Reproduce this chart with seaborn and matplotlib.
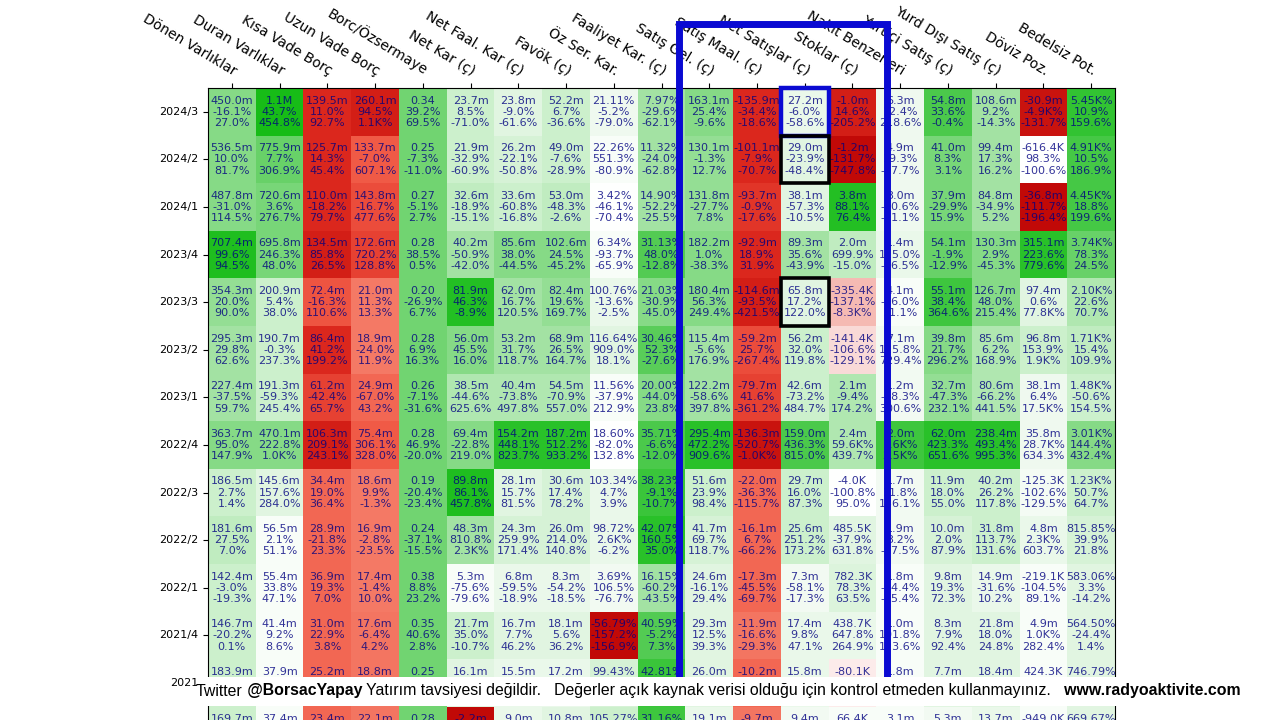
import numpy as np
import pandas as pd
import seaborn as sns
import matplotlib.pyplot as plt
from matplotlib.colors import LinearSegmentedColormap
from matplotlib.patches import Rectangle

# satirlar (donemler) ve sutunlar (kalemler)
donemler = ['2024/3', '2024/2', '2024/1', '2023/4', '2023/3', '2023/2', '2023/1',
            '2022/4', '2022/3', '2022/2', '2022/1', '2021/4', '2021', '2020/4']
kalemler = ['Dönen Varlıklar', 'Duran Varlıklar', 'Kısa Vade Borç', 'Uzun Vade Borç',
            'Borc/Özsermaye', 'Net Kar (ç)', 'Net Faal. Kar (ç)', 'Favök (ç)', 'Öz Ser. Kar.',
            'Faaliyet Kar. (ç)', 'Satış Gel. (ç)', 'Satış Maal. (ç)', 'Net Satışlar (ç)',
            'Stoklar (ç)', 'Nakit Benzerleri', 'Yurtiçi Satış (ç)', 'Yurd Dışı Satış (ç)',
            'Döviz Poz.', 'Bedelsiz Pot.']

# hucre degerleri (1. satir)
degerler = [
    ['450.0m', '1.1M', '139.5m', '260.1m', '0.34', '23.7m', '23.8m', '52.2m', '21.11%', '7.97%', '163.1m', '-135.9m', '27.2m', '-1.0m', '6.3m', '54.8m', '108.6m', '-30.9m', '5.45K%'],
    ['536.5m', '775.9m', '125.7m', '133.7m', '0.25', '21.9m', '26.2m', '49.0m', '22.26%', '11.32%', '130.1m', '-101.1m', '29.0m', '-1.2m', '4.9m', '41.0m', '99.4m', '-616.4K', '4.91K%'],
    ['487.8m', '720.6m', '110.0m', '143.8m', '0.27', '32.6m', '33.6m', '53.0m', '3.42%', '14.90%', '131.8m', '-93.7m', '38.1m', '3.8m', '3.0m', '37.9m', '84.8m', '-36.8m', '4.45K%'],
    ['707.4m', '695.8m', '134.5m', '172.6m', '0.28', '40.2m', '85.6m', '102.6m', '6.34%', '31.13%', '182.2m', '-92.9m', '89.3m', '2.0m', '1.4m', '54.1m', '130.3m', '315.1m', '3.74K%'],
    ['354.3m', '200.9m', '72.4m', '21.0m', '0.20', '81.9m', '62.0m', '82.4m', '100.76%', '21.03%', '180.4m', '-114.6m', '65.8m', '-335.4K', '4.1m', '55.1m', '126.7m', '97.4m', '2.10K%'],
    ['295.3m', '190.7m', '86.4m', '18.9m', '0.28', '56.0m', '53.2m', '68.9m', '116.64%', '30.46%', '115.4m', '-59.2m', '56.2m', '-141.4K', '7.1m', '39.8m', '85.6m', '96.8m', '1.71K%'],
    ['227.4m', '191.3m', '61.2m', '24.9m', '0.26', '38.5m', '40.4m', '54.5m', '11.56%', '20.00%', '122.2m', '-79.7m', '42.6m', '2.1m', '1.2m', '32.7m', '80.6m', '38.1m', '1.48K%'],
    ['363.7m', '470.1m', '106.3m', '75.4m', '0.28', '69.4m', '154.2m', '187.2m', '18.60%', '35.71%', '295.4m', '-136.3m', '159.0m', '2.4m', '2.0m', '62.0m', '238.4m', '35.8m', '3.01K%'],
    ['186.5m', '145.6m', '34.4m', '18.6m', '0.19', '89.8m', '28.1m', '30.6m', '103.34%', '38.23%', '51.6m', '-22.0m', '29.7m', '-4.0K', '1.7m', '11.9m', '40.2m', '-125.3K', '1.23K%'],
    ['181.6m', '56.5m', '28.9m', '16.9m', '0.24', '48.3m', '24.3m', '26.0m', '98.72%', '42.07%', '41.7m', '-16.1m', '25.6m', '485.5K', '1.9m', '10.0m', '31.8m', '4.8m', '815.85%'],
    ['142.4m', '55.4m', '36.9m', '17.4m', '0.38', '5.3m', '6.8m', '8.3m', '3.69%', '16.15%', '24.6m', '-17.3m', '7.3m', '782.3K', '1.8m', '9.8m', '14.9m', '-219.1K', '583.06%'],
    ['146.7m', '41.4m', '31.0m', '17.6m', '0.35', '21.7m', '16.7m', '18.1m', '-56.79%', '40.59%', '29.3m', '-11.9m', '17.4m', '438.7K', '1.0m', '8.3m', '21.8m', '4.9m', '564.50%'],
    ['183.9m', '37.9m', '25.2m', '18.8m', '0.25', '16.1m', '15.5m', '17.2m', '99.43%', '42.81%', '26.0m', '-10.2m', '15.8m', '-80.1K', '1.8m', '7.7m', '18.4m', '424.3K', '746.79%'],
    ['169.7m', '37.4m', '23.4m', '22.1m', '0.28', '-2.2m', '9.0m', '10.8m', '105.27%', '31.16%', '19.1m', '-9.7m', '9.4m', '66.4K', '3.1m', '5.3m', '13.7m', '-949.0K', '669.67%'],
]

# ceyreklik degisim (2. satir)
degisim_1 = [
    ['-16.1%', '43.7%', '11.0%', '94.5%', '39.2%', '8.5%', '-9.0%', '6.7%', '-5.2%', '-29.6%', '25.4%', '-34.4%', '-6.0%', '14.6%', '12.4%', '33.6%', '9.2%', '-4.9K%', '10.9%'],
    ['10.0%', '7.7%', '14.3%', '-7.0%', '-7.3%', '-32.9%', '-22.1%', '-7.6%', '551.3%', '-24.0%', '-1.3%', '-7.9%', '-23.9%', '-131.7%', '19.3%', '8.3%', '17.3%', '98.3%', '10.5%'],
    ['-31.0%', '3.6%', '-18.2%', '-16.7%', '-5.1%', '-18.9%', '-60.8%', '-48.3%', '-46.1%', '-52.2%', '-27.7%', '-0.9%', '-57.3%', '88.1%', '-10.6%', '-29.9%', '-34.9%', '-111.7%', '18.8%'],
    ['99.6%', '246.3%', '85.8%', '720.2%', '38.5%', '-50.9%', '38.0%', '24.5%', '-93.7%', '48.0%', '1.0%', '18.9%', '35.6%', '699.9%', '115.0%', '-1.9%', '2.9%', '223.6%', '78.3%'],
    ['20.0%', '5.4%', '-16.3%', '11.3%', '-26.9%', '46.3%', '16.7%', '19.6%', '-13.6%', '-30.9%', '56.3%', '-93.5%', '17.2%', '-137.1%', '-26.0%', '38.4%', '48.0%', '0.6%', '22.6%'],
    ['29.8%', '-0.3%', '41.2%', '-24.0%', '6.9%', '45.5%', '31.7%', '26.5%', '909.0%', '52.3%', '-5.6%', '25.7%', '32.0%', '-106.6%', '125.8%', '21.7%', '6.2%', '153.9%', '15.4%'],
    ['-37.5%', '-59.3%', '-42.4%', '-67.0%', '-7.1%', '-44.6%', '-73.8%', '-70.9%', '-37.9%', '-44.0%', '-58.6%', '41.6%', '-73.2%', '-9.4%', '-48.3%', '-47.3%', '-66.2%', '6.4%', '-50.6%'],
    ['95.0%', '222.8%', '209.1%', '306.1%', '46.9%', '-22.8%', '448.1%', '512.2%', '-82.0%', '-6.6%', '472.2%', '-520.7%', '436.3%', '59.6K%', '1.6K%', '423.3%', '493.4%', '28.7K%', '144.4%'],
    ['2.7%', '157.6%', '19.0%', '9.9%', '-20.4%', '86.1%', '15.7%', '17.4%', '4.7%', '-9.1%', '23.9%', '-36.3%', '16.0%', '-100.8%', '11.8%', '18.0%', '26.2%', '-102.6%', '50.7%'],
    ['27.5%', '2.1%', '-21.8%', '-2.8%', '-37.1%', '810.8%', '259.9%', '214.0%', '2.6K%', '160.5%', '69.7%', '6.7%', '251.2%', '-37.9%', '3.2%', '2.0%', '113.7%', '2.3K%', '39.9%'],
    ['-3.0%', '33.8%', '19.3%', '-1.4%', '8.8%', '-75.6%', '-59.5%', '-54.2%', '106.5%', '-60.2%', '-16.1%', '-45.5%', '-58.1%', '78.3%', '-14.4%', '19.3%', '-31.6%', '-104.5%', '3.3%'],
    ['-20.2%', '9.2%', '22.9%', '-6.4%', '40.6%', '35.0%', '7.7%', '5.6%', '-157.2%', '-5.2%', '12.5%', '-16.6%', '9.8%', '647.8%', '101.8%', '7.9%', '18.0%', '1.0K%', '-24.4%'],
    [''] * 19,
    [''] * 19,
]

# yillik degisim (3. satir)
degisim_2 = [
    ['27.0%', '454.8%', '92.7%', '1.1K%', '69.5%', '-71.0%', '-61.6%', '-36.6%', '-79.0%', '-62.1%', '-9.6%', '-18.6%', '-58.6%', '-205.2%', '218.6%', '-0.4%', '-14.3%', '-131.7%', '159.6%'],
    ['81.7%', '306.9%', '45.4%', '607.1%', '-11.0%', '-60.9%', '-50.8%', '-28.9%', '-80.9%', '-62.8%', '12.7%', '-70.7%', '-48.4%', '-747.8%', '-17.7%', '3.1%', '16.2%', '-100.6%', '186.9%'],
    ['114.5%', '276.7%', '79.7%', '477.6%', '2.7%', '-15.1%', '-16.8%', '-2.6%', '-70.4%', '-25.5%', '7.8%', '-17.6%', '-10.5%', '76.4%', '-21.1%', '15.9%', '5.2%', '-196.4%', '199.6%'],
    ['94.5%', '48.0%', '26.5%', '128.8%', '0.5%', '-42.0%', '-44.5%', '-45.2%', '-65.9%', '-12.8%', '-38.3%', '31.9%', '-43.9%', '-15.0%', '-16.5%', '-12.9%', '-45.3%', '779.6%', '24.5%'],
    ['90.0%', '38.0%', '110.6%', '13.3%', '6.7%', '-8.9%', '120.5%', '169.7%', '-2.5%', '-45.0%', '249.4%', '-421.5%', '122.0%', '-8.3K%', '11.1%', '364.6%', '215.4%', '77.8K%', '70.7%'],
    ['62.6%', '237.3%', '199.2%', '11.9%', '16.3%', '16.0%', '118.7%', '164.7%', '18.1%', '-27.6%', '176.9%', '-267.4%', '119.8%', '-129.1%', '729.4%', '296.2%', '168.9%', '1.9K%', '109.9%'],
    ['59.7%', '245.4%', '65.7%', '43.2%', '-31.6%', '625.6%', '497.8%', '557.0%', '212.9%', '23.8%', '397.8%', '-361.2%', '484.7%', '174.2%', '300.6%', '232.1%', '441.5%', '17.5K%', '154.5%'],
    ['147.9%', '1.0K%', '243.1%', '328.0%', '-20.0%', '219.0%', '823.7%', '933.2%', '132.8%', '-12.0%', '909.6%', '-1.0K%', '815.0%', '439.7%', '2.5K%', '651.6%', '995.3%', '634.3%', '432.4%'],
    ['1.4%', '284.0%', '36.4%', '-1.3%', '-23.4%', '457.8%', '81.5%', '78.2%', '3.9%', '-10.7%', '98.4%', '-115.7%', '87.3%', '95.0%', '136.1%', '55.0%', '117.8%', '-129.5%', '64.7%'],
    ['7.0%', '51.1%', '23.3%', '-23.5%', '-15.5%', '2.3K%', '171.4%', '140.8%', '-6.2%', '35.0%', '118.7%', '-66.2%', '173.2%', '631.8%', '-17.5%', '87.9%', '131.6%', '603.7%', '21.8%'],
    ['-19.3%', '47.1%', '7.0%', '10.0%', '23.2%', '-79.6%', '-18.9%', '-18.5%', '-76.7%', '-43.5%', '29.4%', '-69.7%', '-17.3%', '63.5%', '-15.4%', '72.3%', '10.2%', '89.1%', '-14.2%'],
    ['0.1%', '8.6%', '3.8%', '4.2%', '2.8%', '-10.7%', '46.2%', '36.2%', '-156.9%', '7.3%', '39.3%', '-29.3%', '47.1%', '264.9%', '123.6%', '92.4%', '24.8%', '282.4%', '1.4%'],
    [''] * 19,
    [''] * 19,
]

# hucre renk skoru (-1 kirmizi ... +1 yesil), resimden okunan tonlar
renk_skor = [
    [0.55, 0.95, -0.8, -0.85, 0.62, 0.3, 0.2, 0.3, 0.12, 0.45, 0.55, -0.8, 0.15, -0.85, 0.12, 0.75, 0.45, -0.9, 0.85],
    [0.55, 0.65, -0.8, -0.6, 0.62, 0.3, 0.25, 0.3, 0.05, 0.45, 0.5, -0.8, 0.2, -0.95, 0.12, 0.6, 0.45, 0.0, 0.78],
    [0.55, 0.6, -0.8, -0.65, 0.62, 0.35, 0.3, 0.35, 0.0, 0.45, 0.5, -0.75, 0.2, 0.9, 0.12, 0.6, 0.45, -0.95, 0.78],
    [0.92, 0.6, -0.85, -0.7, 0.62, 0.45, 0.55, 0.55, 0.05, 0.72, 0.55, -0.8, 0.45, 0.35, 0.15, 0.65, 0.55, 0.88, 0.65],
    [0.5, 0.3, -0.62, -0.48, 0.62, 0.9, 0.45, 0.5, 0.15, 0.55, 0.55, -0.85, 0.2, -0.28, 0.05, 0.8, 0.55, 0.2, 0.4],
    [0.45, 0.3, -0.8, -0.48, 0.62, 0.55, 0.45, 0.45, 0.2, 0.7, 0.45, -0.65, 0.3, -0.15, 0.1, 0.55, 0.4, 0.3, 0.35],
    [0.45, 0.3, -0.7, -0.55, 0.62, 0.4, 0.4, 0.4, 0.05, 0.55, 0.45, -0.7, 0.3, 0.4, 0.1, 0.5, 0.4, 0.12, 0.3],
    [0.55, 0.55, -0.85, -0.6, 0.62, 0.55, 0.88, 0.88, 0.0, 0.75, 0.88, -0.9, 0.75, 0.4, 0.8, 0.88, 0.88, 0.12, 0.55],
    [0.3, 0.2, -0.55, -0.48, 0.62, 0.92, 0.2, 0.25, 0.15, 0.82, 0.3, -0.55, 0.3, 0.0, 0.1, 0.3, 0.3, 0.08, 0.3],
    [0.35, 0.05, -0.55, -0.48, 0.62, 0.45, 0.25, 0.25, 0.15, 0.88, 0.25, -0.55, 0.3, 0.2, 0.1, 0.25, 0.3, 0.15, 0.25],
    [0.3, 0.05, -0.55, -0.48, 0.62, 0.05, 0.15, 0.15, 0.1, 0.45, 0.2, -0.55, 0.1, 0.22, 0.05, 0.2, 0.15, 0.05, 0.2],
    [0.3, 0.05, -0.55, -0.5, 0.62, 0.3, 0.2, 0.2, -0.95, 0.72, 0.2, -0.5, 0.15, 0.15, 0.05, 0.2, 0.2, 0.05, 0.2],
    [0.3, 0.05, -0.55, -0.5, 0.62, 0.2, 0.15, 0.15, 0.25, 0.82, 0.2, -0.55, 0.15, -0.08, 0.05, 0.2, 0.2, 0.05, 0.2],
    [0.3, 0.05, -0.55, -0.5, 0.62, -0.95, 0.15, 0.2, 0.3, 0.8, 0.15, -0.5, 0.1, 0.05, 0.05, 0.1, 0.15, 0.05, 0.2],
]

# alt bilgi yazisi (metin, kalin mi)
alt_yazi = [
    ('Twitter', False),
    (' @BorsacYapay', True),
    (' Yatırım tavsiyesi değildir.   Değerler açık kaynak verisi olduğu için kontrol etmeden kullanmayınız.', False),
    ('   www.radyoaktivite.com', True),
]

skor = pd.DataFrame(renk_skor, index=donemler, columns=kalemler)
etiket = np.array([[f'{a}\n{b}\n{c}' for a, b, c in zip(r1, r2, r3)]
                   for r1, r2, r3 in zip(degerler, degisim_1, degisim_2)])

cmap = LinearSegmentedColormap.from_list('kirmizi_yesil', [
    (0.0, '#b90000'), (0.1, '#dc281e'), (0.2, '#f05a46'), (0.275, '#f5826e'),
    (0.375, '#f5c3be'), (0.5, '#ffffff'), (0.575, '#ebf8eb'), (0.65, '#cdf0cd'),
    (0.75, '#96de96'), (0.85, '#5acd5a'), (1.0, '#0ab90a')])

W, H = 1280, 720
fig = plt.figure(figsize=(12.8, 7.2), dpi=100)
satir_h = 47.6
ax = fig.add_axes([208 / W, 1 - (88 + 14 * satir_h) / H, 907 / W, 14 * satir_h / H])

sns.heatmap(skor, ax=ax, cmap=cmap, vmin=-1, vmax=1, cbar=False,
            annot=etiket, fmt='', xticklabels=kalemler, yticklabels=donemler,
            annot_kws=dict(fontsize=8, color='#000080', alpha=0.8, linespacing=1.15))

ax.xaxis.tick_top()
ax.set_xticklabels(kalemler, rotation=-31, ha='right', va='bottom',
                   rotation_mode='anchor', fontsize=10)
ax.set_yticklabels(donemler, rotation=0, fontsize=8)
ax.set_xlabel('')
ax.set_ylabel('')
for s in ax.spines.values():
    s.set_visible(True)
    s.set_linewidth(0.8)

# isaretli hucreler
ax.add_patch(Rectangle((12, 0), 1, 1, fill=False, ec='#0a0ad2', lw=3.2, clip_on=False, zorder=5))
ax.add_patch(Rectangle((12, 1), 1, 1, fill=False, ec='black', lw=2.6, clip_on=False, zorder=5))
ax.add_patch(Rectangle((12, 4), 1, 1, fill=False, ec='black', lw=2.6, clip_on=False, zorder=5))

# buyuk mavi cerceve
fig.add_artist(Rectangle((678.5 / W, 1 - 690 / H), 208 / W, (690 - 23.5) / H,
                         transform=fig.transFigure, fill=False, ec='#0a0ad2', lw=5, zorder=5))

# alt bilgi bandi
fig.add_artist(Rectangle((200 / W, 1 - 706 / H), 1050 / W, 29 / H,
                         transform=fig.transFigure, fc='white', ec='none', zorder=10))
r = fig.canvas.get_renderer()
x = 196
for metin, kalin in alt_yazi:
    t = fig.text(x / W, 1 - 691 / H, metin, fontsize=11.4, va='center', ha='left',
                 family=['Liberation Sans', 'DejaVu Sans'],
                 fontweight='bold' if kalin else 'normal', zorder=11)
    x += t.get_window_extent(r).width

fig.savefig('out.png', dpi=100)
